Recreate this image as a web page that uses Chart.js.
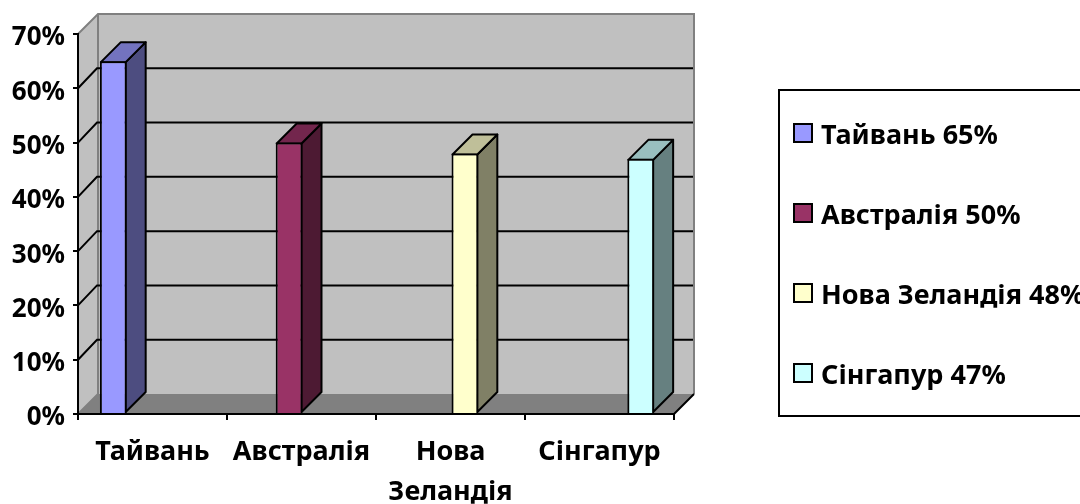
<!DOCTYPE html>
<html lang="uk">
  <head>
    <meta charset="UTF-8" />
    <title>Тайвань, Австралія, Нова Зеландія, Сінгапур</title>
    <script src="https://cdn.jsdelivr.net/npm/chart.js"></script>
    <style>
      html, body { margin: 0; background: #fff; overflow: hidden; }
      canvas { display: block; }
    </style>
  </head>
  <body>
    <canvas id="barChart" width="1080" height="504"></canvas>
    <script>
      const categories = ["Тайвань", "Австралія", ["Нова", "Зеландія"], "Сінгапур"];
      const seriesNames = ["Тайвань", "Австралія", "Нова Зеландія", "Сінгапур"];
      const seriesValues = [65, 50, 48, 47];
      const yTicks = [0, 10, 20, 30, 40, 50, 60, 70];

      const frontColors = ["#9999ff", "#993366", "#ffffcc", "#ccffff"];
      const topColors = ["#7373bf", "#73264d", "#bfbf99", "#99bfbf"];
      const sideColors = ["#4d4d80", "#4d1a33", "#808066", "#668080"];

      const FONT_FAMILY = "'Noto Sans', sans-serif";
      const FONT_SIZE = 27;
      const DEPTH_X = 20;
      const DEPTH_Y = 20;

      function polygon(ctx, points, fill, stroke, lineWidth) {
        ctx.beginPath();
        points.forEach((p, i) => (i ? ctx.lineTo(p[0], p[1]) : ctx.moveTo(p[0], p[1])));
        ctx.closePath();
        if (fill) {
          ctx.fillStyle = fill;
          ctx.fill();
        }
        if (stroke) {
          ctx.strokeStyle = stroke;
          ctx.lineWidth = lineWidth;
          ctx.lineJoin = "round";
          ctx.stroke();
        }
      }

      // walls, floor and the gridlines that wrap around them
      const wallsPlugin = {
        id: "walls",
        beforeDraw(chart) {
          const { ctx, chartArea: a, scales } = chart;
          const y = scales.y;
          const backTop = a.top - DEPTH_Y;
          const backBottom = a.bottom - DEPTH_Y;
          const backLeft = a.left + DEPTH_X;
          const backRight = a.right + DEPTH_X;
          ctx.save();
          polygon(ctx, [[a.left, a.top], [backLeft, backTop], [backLeft, backBottom], [a.left, a.bottom]], "#c0c0c0");
          polygon(ctx, [[backLeft, backTop], [backRight, backTop], [backRight, backBottom], [backLeft, backBottom]], "#c0c0c0");
          polygon(ctx, [[a.left, a.bottom], [backLeft, backBottom], [backRight, backBottom], [a.right, a.bottom]], "#808080");

          ctx.strokeStyle = "#808080";
          ctx.lineWidth = 2;
          ctx.beginPath();
          ctx.moveTo(a.left, a.top);
          ctx.lineTo(backLeft, backTop);
          ctx.lineTo(backRight, backTop);
          ctx.lineTo(backRight, backBottom);
          ctx.moveTo(backLeft, backTop);
          ctx.lineTo(backLeft, backBottom);
          ctx.lineTo(a.left, a.bottom);
          ctx.stroke();

          ctx.strokeStyle = "#000";
          ctx.beginPath();
          yTicks.slice(1, -1).forEach((v) => {
            const py = y.getPixelForValue(v);
            ctx.moveTo(a.left, py);
            ctx.lineTo(backLeft - 1, py - DEPTH_Y);
            ctx.lineTo(backRight - 1, py - DEPTH_Y);
          });
          ctx.moveTo(a.right, a.bottom);
          ctx.lineTo(backRight, backBottom);
          ctx.stroke();
          ctx.restore();
        },
        // cluster sits a little right of the category centre
        afterDatasetsUpdate(chart) {
          chart.data.datasets.forEach((d, i) => {
            chart.getDatasetMeta(i).data.forEach((bar) => {
              bar.x += 1;
            });
          });
        },
        // top and side faces of each box
        beforeDatasetsDraw(chart) {
          const { ctx } = chart;
          ctx.save();
          chart.data.datasets.forEach((d, i) => {
            const bar = chart.getDatasetMeta(i).data[i];
            const { x, y, base, width } = bar.getProps(["x", "y", "base", "width"]);
            const l = x - width / 2 + 1;
            const r = x + width / 2 - 1;
            const t = y + 1;
            const b = base - 1;
            polygon(ctx, [[r, b], [r + DEPTH_X, b - DEPTH_Y], [r + DEPTH_X, t - DEPTH_Y], [r, t]], sideColors[i], "#000", 2);
            polygon(ctx, [[l, t], [l + DEPTH_X, t - DEPTH_Y], [r + DEPTH_X, t - DEPTH_Y], [r, t]], topColors[i], "#000", 2);
          });
          ctx.restore();
        },
        // legend box, runs off the right edge of the canvas
        afterDraw(chart) {
          const { ctx } = chart;
          ctx.save();
          ctx.strokeStyle = "#000";
          ctx.lineWidth = 2;
          ctx.strokeRect(779, 90, 320, 326);
          ctx.font = `bold ${FONT_SIZE}px ${FONT_FAMILY}`;
          ctx.textBaseline = "middle";
          seriesNames.forEach((name, i) => {
            const cy = 133 + i * 80;
            ctx.fillStyle = frontColors[i];
            ctx.fillRect(794, cy - 9, 18, 18);
            ctx.strokeRect(794, cy - 9, 18, 18);
            ctx.fillStyle = "#000";
            ctx.fillText(`${name} ${seriesValues[i]}%`, 821, cy + 3);
          });
          ctx.restore();
        },
      };

      new Chart(document.getElementById("barChart").getContext("2d"), {
        type: "bar",
        plugins: [wallsPlugin],
        data: {
          labels: categories,
          datasets: seriesNames.map((name, i) => ({
            label: name,
            data: seriesValues.map((v, j) => (j === i ? v : null)),
            backgroundColor: frontColors[i],
            borderColor: "#000",
            borderWidth: 2,
            categoryPercentage: 0.72,
            barPercentage: 1,
          })),
        },
        options: {
          responsive: false,
          animation: false,
          layout: { padding: { left: 0, top: 34, right: 406, bottom: 0 } },
          plugins: { legend: { display: false }, tooltip: { enabled: false } },
          scales: {
            x: {
              afterFit(scale) {
                scale.height = 90;
              },
              border: { color: "#000", width: 2 },
              grid: { drawOnChartArea: false, color: "#000", lineWidth: 2, tickLength: 6 },
              ticks: {
                color: "#000",
                maxRotation: 0,
                autoSkip: false,
                padding: 12,
                font: { family: FONT_FAMILY, size: FONT_SIZE, weight: "bold", lineHeight: 1.48 },
              },
            },
            y: {
              min: 0,
              max: 70,
              afterFit(scale) {
                scale.width = 78;
              },
              afterBuildTicks(scale) {
                scale.ticks = yTicks.map((value) => ({ value }));
              },
              border: { color: "#000", width: 2 },
              grid: { drawOnChartArea: false, color: "#000", lineWidth: 2, tickLength: 5 },
              ticks: {
                color: "#000",
                padding: 8,
                labelOffset: 4,
                callback: (v) => `${v}%`,
                font: { family: FONT_FAMILY, size: 26, weight: "bold" },
              },
            },
          },
        },
      });
    </script>
  </body>
</html>
